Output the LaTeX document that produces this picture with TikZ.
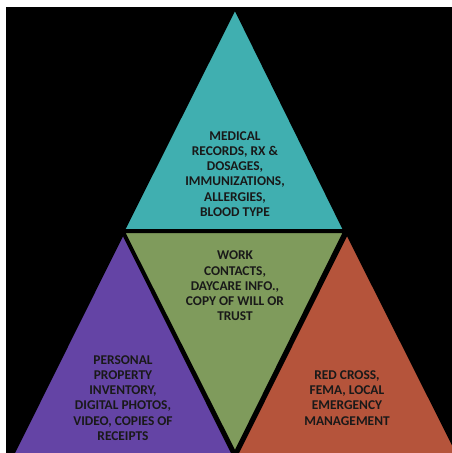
\documentclass[tikz,border=0pt]{standalone}
\usepackage{fontspec}
\setmainfont{Carlito}
\definecolor{medteal}{RGB}{64,175,176}
\definecolor{workgreen}{RGB}{127,155,92}
\definecolor{proppurple}{RGB}{100,68,165}
\definecolor{aidorange}{RGB}{181,84,59}

\begin{document}
\begin{tikzpicture}[x=1pt, y=-1pt,
  tri/.style={draw=black, line width=2pt, line join=miter},
  lbl/.style={align=center, text=black!90, font=\bfseries\fontsize{13.4}{15.2}\selectfont}]

\useasboundingbox[fill=white] (0,0) rectangle (452,453);
\fill[black] (6,7) rectangle (452,453);

\begin{scope}
\clip (6,7) rectangle (452,453);
\draw[tri, fill=medteal] (235,9) -- (344,230) -- (124,230) -- cycle;
\draw[tri, fill=workgreen] (124,232) -- (344,232) -- (235,452) -- cycle;
\draw[tri, fill=proppurple] (123,234) -- (233,455) -- (13,455) -- cycle;
\draw[tri, fill=aidorange] (347,234) -- (458,455) -- (237,455) -- cycle;
\end{scope}

\node[lbl] (medical) at (235,174) {MEDICAL\\RECORDS, RX \&\\DOSAGES,\\IMMUNIZATIONS,\\ALLERGIES,\\BLOOD TYPE};
\node[lbl] (work) at (235,286) {WORK\\CONTACTS,\\DAYCARE INFO.,\\COPY OF WILL OR\\TRUST};
\node[lbl] (property) at (123,398) {PERSONAL\\PROPERTY\\INVENTORY,\\DIGITAL PHOTOS,\\VIDEO, COPIES OF\\RECEIPTS};
\node[lbl] (relief) at (347,398) {RED CROSS,\\FEMA, LOCAL\\EMERGENCY\\MANAGEMENT};

\end{tikzpicture}
\end{document}
